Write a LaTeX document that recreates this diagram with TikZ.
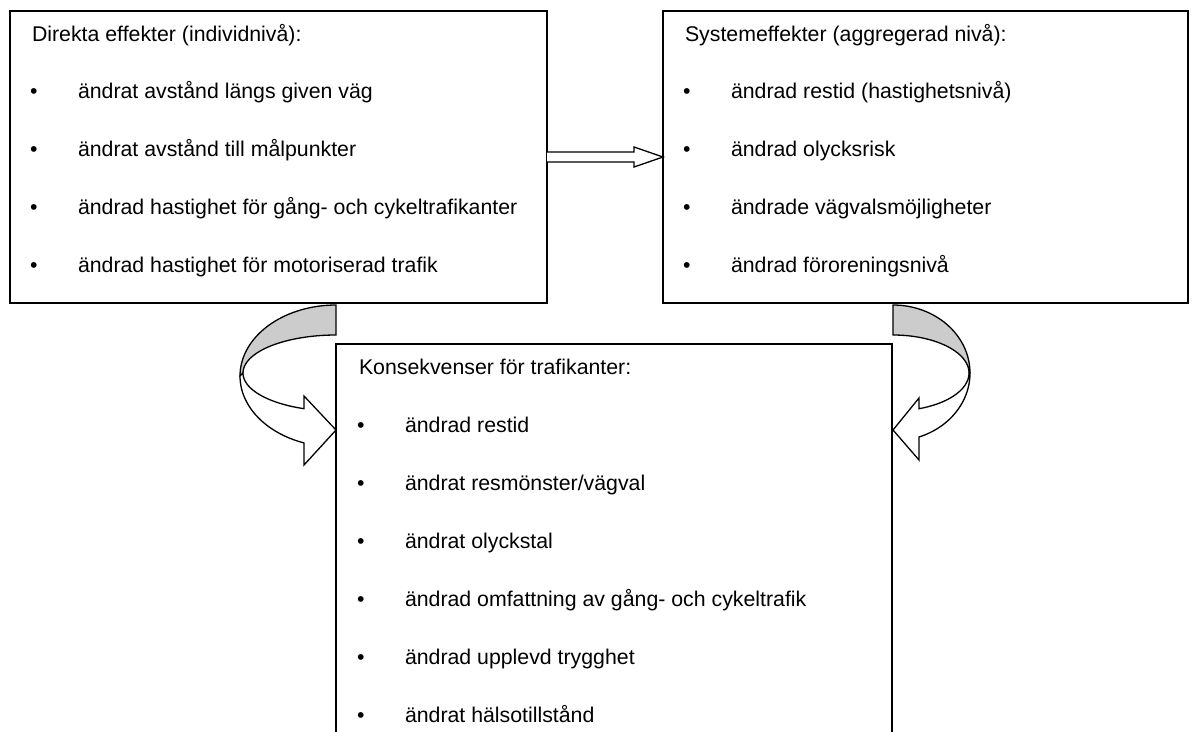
\documentclass[tikz,border=0pt]{standalone}
\usepackage{fontspec}
\setmainfont{Liberation Sans}
\usetikzlibrary{calc}
\tikzset{
  box/.style={draw=black, line width=1.6pt, fill=white, rectangle, inner sep=0pt, outer sep=0pt},
  txt/.style={anchor=base west, inner sep=0pt, outer sep=0pt, font=\fontsize{21.3}{25}\selectfont},
  arrowline/.style={draw=black, line width=1.3pt, line join=miter},
  band/.style={arrowline, fill=black!20},
}
\begin{document}
\begin{tikzpicture}[x=1pt,y=-1pt]
\useasboundingbox (0,0) rectangle (1198,731);
\clip (0,0) rectangle (1198,731);
% boxes
\node[box, minimum width=537, minimum height=292] (L) at (278.5,157) {};
\node[box, minimum width=525, minimum height=292] (R) at (925.5,157) {};
\node[box, minimum width=556, minimum height=436] (B) at (614,562) {};
% left box text
\node[txt] (Lt) at (32,41) {Direkta effekter (individnivå):};
\foreach \y/\t [count=\i] in {98/{ändrat avstånd längs given väg}, 156/{ändrat avstånd till målpunkter}, 214/{ändrad hastighet för gång- och cykeltrafikanter}, 272/{ändrad hastighet för motoriserad trafik}}{
  \node[txt] (Lb\i) at (30,\y) {•};
  \node[txt] (Lx\i) at (78,\y) {\t};
}
% right box text
\node[txt] (Rt) at (685,41) {Systemeffekter (aggregerad nivå):};
\foreach \y/\t [count=\i] in {98/{ändrad restid (hastighetsnivå)}, 156/{ändrad olycksrisk}, 214/{ändrade vägvalsmöjligheter}, 272/{ändrad föroreningsnivå}}{
  \node[txt] (Rb\i) at (683,\y) {•};
  \node[txt] (Rx\i) at (731,\y) {\t};
}
% bottom box text
\node[txt] (Bt) at (359,374) {Konsekvenser för trafikanter:};
\foreach \y/\t [count=\i] in {432/{ändrad restid}, 490/{ändrat resmönster/vägval}, 548/{ändrat olyckstal}, 606/{ändrad omfattning av gång- och cykeltrafik}, 664/{ändrad upplevd trygghet}, 722/{ändrat hälsotillstånd}}{
  \node[txt] (Bb\i) at (357,\y) {•};
  \node[txt] (Bx\i) at (405,\y) {\t};
}
% straight block arrow L -> R
\draw[arrowline, fill=white] ($(L.east)+(0,-5)$) -- ($(R.west)+(-29,-5)$) -- ($(R.west)+(-29,-10)$) -- (R.west) -- ($(R.west)+(-29,10)$) -- ($(R.west)+(-29,5)$) -- ($(L.east)+(0,5)$);
% left curved arrow
\draw[band] plot[domain=270:180, samples=40] ({336+96*cos(\x)},{376+71*sin(\x)}) -- plot[domain=180:270, samples=40] ({336+93*cos(\x)},{373+38*sin(\x)}) -- cycle;
\draw[arrowline, fill=white] plot[domain=180:109.5, samples=40] ({336+96*cos(\x)},{376+71*sin(\x)}) -- (304,465) -- (336,430) -- (304,396) -- plot[domain=110.1:180, samples=40] ({336+93*cos(\x)},{373+38*sin(\x)}) -- cycle;
% right curved arrow
\draw[band] plot[domain=270:360, samples=40] ({893+77*cos(\x)},{373+68*sin(\x)}) -- plot[domain=360:270, samples=40] ({893+76*cos(\x)},{373+38*sin(\x)}) -- cycle;
\draw[arrowline, fill=white] plot[domain=0:70.3, samples=40] ({893+77*cos(\x)},{373+68*sin(\x)}) -- (919,460) -- (893,430) -- (919,398) -- plot[domain=70:0, samples=40] ({893+76*cos(\x)},{373+38*sin(\x)}) -- cycle;
\end{tikzpicture}
\end{document}
